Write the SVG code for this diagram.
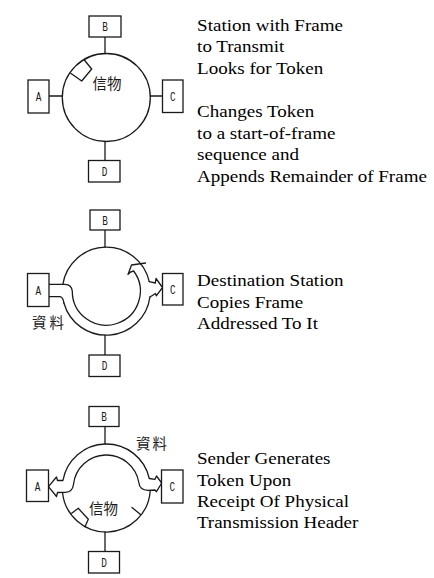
<svg xmlns="http://www.w3.org/2000/svg" width="434" height="578" viewBox="0 0 434 578">
<style>
.box{fill:#fff;stroke:#1a1a1a;stroke-width:1.3}
.ln{fill:none;stroke:#1a1a1a;stroke-width:1.3;stroke-linejoin:round;stroke-linecap:round}
.lbl{font-family:"Liberation Mono",monospace;font-size:12.5px;fill:#1a1a1a;text-anchor:middle}
.cjk{font-family:"Noto Sans CJK TC","Noto Sans CJK SC",sans-serif;font-size:14.5px;fill:#1a1a1a;text-anchor:middle}
.desc{font-family:"Liberation Serif","Times New Roman",serif;font-size:17px;fill:#000}
</style>
<rect width="434" height="578" fill="#fff"/>

<g id="connectors">
  <!-- diagram 1 -->
  <circle class="ln" cx="106.3" cy="97.5" r="44"/>
  <path class="ln" d="M105 37 V53.5 M49 96 H62.3 M150.3 96 H162.5 M105 141.5 V160.5"/>
  <path class="ln" d="M70.7 73.3 L81.7 81 L91.7 69 L84.3 60"/>
  <!-- diagram 2 -->
  <path class="ln" d="M105 230 V247.2 M105 335.2 V355"/>
  <path class="ln" d="M62.84 284.3 A44 44 0 0 1 149.26 281.7"/>
  <path class="ln" d="M149.92 297 A44 44 0 0 1 63.91 303"/>
  <path class="ln" d="M49 284.3 L65 284.3 Q71.8 284.6 72.3 291.2 A34 34 0 1 0 133.65 271 Q130 271.5 128 274.5 L131.5 265 L145.5 263"/>
  <path class="ln" d="M49 296.7 L60 296.7 Q63.2 297.5 63.91 303"/>
  <path class="ln" d="M149.26 281.7 L155.3 283 L156 278.5 L162.5 287.5 L156.3 295.8 L155.5 293.5 L149.92 297"/>
  <!-- diagram 3 -->
  <path class="ln" d="M105 426.5 V444 M105 532 V551.5"/>
  <path class="ln" d="M62.94 480.5 A44 44 0 0 1 149.26 478.5 L155 479.3 L156.5 476 L161.7 483 L156.5 491.7 L155 490 L148 490.3 Q139.5 490 138.84 482.5 A33 33 0 0 0 73.49 484.5 Q72.5 492 65.5 492.3 L57.5 492.5 L56.5 496.5 L48.5 486.7 L56.5 477 L57.5 480.5 Z"/>
  <path class="ln" d="M150.2 491 A44 44 0 0 1 62.58 493"/>
  <path class="ln" d="M71.7 513.3 L78.3 508.3 L88.3 519.3 L85 526.7"/>
  <path class="ln" d="M132 507.5 L140.5 514.5"/>
</g>

<g id="d1-B"><rect class="box" x="89" y="16" width="32" height="21"/><text class="lbl" transform="translate(105,31) scale(0.75,1)">B</text></g>
<g id="d1-A"><rect class="box" x="28" y="80" width="21" height="33"/><text class="lbl" transform="translate(38.5,100.5) scale(0.75,1)">A</text></g>
<g id="d1-C"><rect class="box" x="162.5" y="80" width="20.5" height="32.5"/><text class="lbl" transform="translate(172.8,100.5) scale(0.75,1)">C</text></g>
<g id="d1-D"><rect class="box" x="88.5" y="160.5" width="31.5" height="21.5"/><text class="lbl" transform="translate(104.5,175.5) scale(0.75,1)">D</text></g>
<text class="cjk" x="107" y="88.5">信物</text>

<g id="d2-B"><rect class="box" x="90" y="210" width="30" height="20"/><text class="lbl" transform="translate(105,224.5) scale(0.75,1)">B</text></g>
<g id="d2-A"><rect class="box" x="27.5" y="273.5" width="21.5" height="33"/><text class="lbl" transform="translate(38.3,294.5) scale(0.75,1)">A</text></g>
<g id="d2-C"><rect class="box" x="162.5" y="273.5" width="20.5" height="31.5"/><text class="lbl" transform="translate(172.8,294) scale(0.75,1)">C</text></g>
<g id="d2-D"><rect class="box" x="89" y="355" width="31" height="21.5"/><text class="lbl" transform="translate(104.5,370) scale(0.75,1)">D</text></g>
<text class="cjk" x="49.5" y="328" style="letter-spacing:3px">資料</text>

<g id="d3-B"><rect class="box" x="89" y="406.5" width="30" height="20"/><text class="lbl" transform="translate(104,421) scale(0.75,1)">B</text></g>
<g id="d3-A"><rect class="box" x="26.5" y="470" width="22" height="31.5"/><text class="lbl" transform="translate(37.5,490.5) scale(0.75,1)">A</text></g>
<g id="d3-C"><rect class="box" x="161.5" y="470" width="21.5" height="33"/><text class="lbl" transform="translate(172.3,491) scale(0.75,1)">C</text></g>
<g id="d3-D"><rect class="box" x="88.5" y="551.5" width="31" height="21.5"/><text class="lbl" transform="translate(104,567) scale(0.75,1)">D</text></g>
<text class="cjk" x="152.5" y="449" style="letter-spacing:2px">資料</text>
<text class="cjk" x="103.5" y="513.5">信物</text>

<g id="text1" transform="scale(1.12,1)">
  <text class="desc" x="176" y="30.7">Station with Frame</text>
  <text class="desc" x="176" y="52.3">to Transmit</text>
  <text class="desc" x="176" y="73.9">Looks for Token</text>
  <text class="desc" x="176" y="117.1">Changes Token</text>
  <text class="desc" x="176" y="138.7">to a start-of-frame</text>
  <text class="desc" x="176" y="160.3">sequence and</text>
  <text class="desc" x="176" y="181.9">Appends Remainder of Frame</text>
</g>
<g id="text2" transform="scale(1.12,1)">
  <text class="desc" x="176" y="286">Destination Station</text>
  <text class="desc" x="176" y="307.7">Copies Frame</text>
  <text class="desc" x="176" y="329.3">Addressed To It</text>
</g>
<g id="text3" transform="scale(1.12,1)">
  <text class="desc" x="175.8" y="464">Sender Generates</text>
  <text class="desc" x="175.8" y="485.7">Token Upon</text>
  <text class="desc" x="175.8" y="506.7">Receipt Of Physical</text>
  <text class="desc" x="175.8" y="528.3">Transmission Header</text>
</g>
</svg>
